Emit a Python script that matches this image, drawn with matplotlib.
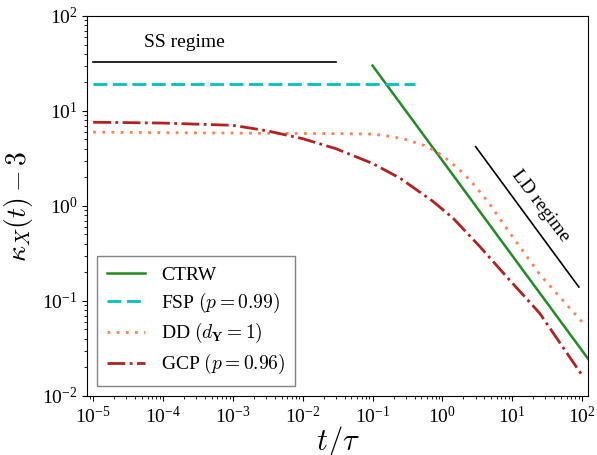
import matplotlib
matplotlib.use('Agg')
import matplotlib.pyplot as plt
import numpy as np

plt.rcParams['font.family'] = 'serif'
plt.rcParams['font.serif'] = ['Liberation Serif', 'DejaVu Serif']
plt.rcParams['mathtext.fontset'] = 'cm'

# CTRW: power law 3/t
t_ctrw = [0.1, 1000.0]
k_ctrw = [30.0, 0.003]

# FSP (p = 0.99): flat plateau
t_fsp = [1e-5, 0.4]
k_fsp = [19.0, 19.0]

# DD (d_Y = 1)
t_dd = [1e-5, 1e-4, 1e-3, 1e-2, 0.05, 0.1, 0.18, 0.3, 0.59, 1.0, 1.88, 2.6, 4.5, 8.3, 24.8, 100.0]
k_dd = [5.97, 5.9, 5.85, 5.78, 5.75, 5.7, 5.4, 5.0, 4.26, 3.4, 2.3, 1.8, 1.11, 0.58, 0.19, 0.06]

# GCP (p = 0.96)
t_gcp = [1e-5, 1e-4, 1e-3, 3e-3, 1e-2, 3e-2, 0.1, 0.25, 0.74, 1.43, 3.44, 8.3, 24.8, 100.0]
k_gcp = [7.6, 7.45, 7.05, 6.2, 5.1, 4.0, 2.8, 1.95, 1.11, 0.74, 0.373, 0.18, 0.074, 0.0165]

# guide lines for the two regimes
t_ss = [1e-5, 0.03]
k_ss = [33.0, 33.0]
t_ld = [3.0, 90.0]
k_ld = [4.2, 0.14]

fig = plt.figure(figsize=(5.97, 4.55), dpi=100)
ax = fig.add_axes([0.146, 0.13, 0.839, 0.835])

ax.plot(t_ctrw, k_ctrw, color='forestgreen', lw=1.8, label='CTRW')
ax.plot(t_fsp, k_fsp, color='c', lw=2, linestyle=(0, (5, 2)), label='FSP $(p=0.99)$')
ax.plot(t_dd, k_dd, color='coral', lw=2, linestyle=(0, (1, 2.3)), label=r'DD $(d_{\mathbf{Y}}=1)$')
ax.plot(t_gcp, k_gcp, color='firebrick', lw=2, linestyle='-.', label='GCP $(p=0.96)$')

ax.plot(t_ss, k_ss, color='black', lw=1.2)
ax.plot(t_ld, k_ld, color='black', lw=1.2)
ax.text(2e-4, 52, 'SS regime', fontsize=14, ha='center', va='center')
ax.text(25, 1.0, 'LD regime', fontsize=14, ha='center', va='center', rotation=-53)

ax.set_xscale('log')
ax.set_yscale('log')
ax.set_xlim(8.2e-6, 1.22e2)
ax.set_ylim(1e-2, 1e2)
ax.tick_params(labelsize=14)

ax.set_xlabel(r'$t/\tau$', fontsize=22, labelpad=-2)
ax.set_ylabel(r'$\kappa_X(t)-3$', fontsize=20, labelpad=5)

leg = ax.legend(loc='lower left', fontsize=14, fancybox=False, edgecolor='0.4',
                labelspacing=0.35, borderpad=0.5)
leg.get_frame().set_linewidth(1.0)

fig.savefig('out.png', dpi=100)
